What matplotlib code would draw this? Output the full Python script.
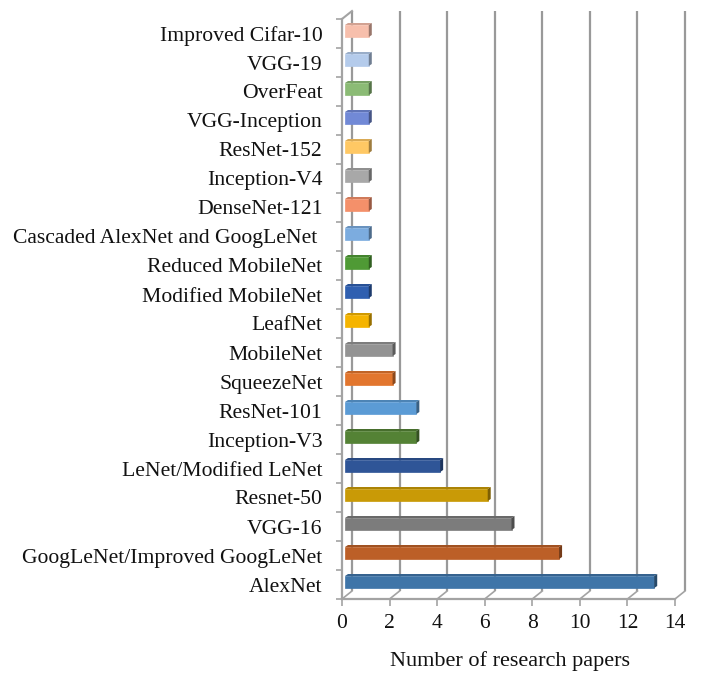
import matplotlib
matplotlib.use('Agg')
import matplotlib.pyplot as plt
from matplotlib.patches import Polygon
from matplotlib.colors import to_rgb

# de baixo para cima, como no grafico
modelos = ['AlexNet', 'GoogLeNet/Improved GoogLeNet', 'VGG-16', 'Resnet-50',
           'LeNet/Modified LeNet', 'Inception-V3', 'ResNet-101', 'SqueezeNet',
           'MobileNet', 'LeafNet', 'Modified MobileNet', 'Reduced MobileNet',
           'Cascaded AlexNet and GoogLeNet ', 'DenseNet-121', 'Inception-V4',
           'ResNet-152', 'VGG-Inception', 'OverFeat', 'VGG-19', 'Improved Cifar-10']
artigos = [13, 9, 7, 6, 4, 3, 3, 2, 2, 1, 1, 1, 1, 1, 1, 1, 1, 1, 1, 1]
cores = ['#3F75A8', '#BC5F27', '#7C7C7C', '#C99A06', '#2F5597', '#548235',
         '#5B9BD5', '#E2762E', '#939393', '#F5B400', '#2F5FB0', '#4F9A35',
         '#7CACDF', '#F4906A', '#A8A8A8', '#FFC864', '#7189D6', '#8BBB75',
         '#B4CBEB', '#F7BFAC']
ticks_x = [0, 2, 4, 6, 8, 10, 12, 14]

W, H = 705, 682
fig = plt.figure(figsize=(W / 100, H / 100), dpi=100)
ax = fig.add_axes([342 / W, 1 - 599 / H, 333 / W, 580 / H])
ax.set_xlim(0, 14)
ax.set_ylim(-0.5, 19.5)
for s in ax.spines.values():
    s.set_visible(False)

# conversao de pixels para unidades de dados
px_x = 14 / 333
px_y = 20 / 580
prof_x = 10 * px_x
prof_y = 8 * px_y
cinza = '#A3A3A3'
cinza2 = '#999999'


def escurece(cor, f):
    return tuple(c * f for c in to_rgb(cor))


# paredes e chao
for v in ticks_x:
    ax.plot([v + prof_x, v + prof_x], [-0.5 + prof_y, 19.5 + prof_y], color=cinza2,
            lw=1.6, clip_on=False, zorder=1, solid_capstyle='butt')
    ax.plot([v, v + prof_x], [-0.5, -0.5 + prof_y], color=cinza, lw=1.2,
            clip_on=False, zorder=1)
ax.plot([0, prof_x], [19.5, 19.5 + prof_y], color=cinza, lw=1.5, clip_on=False, zorder=1)
ax.plot([0, 0], [-0.5, 19.5], color=cinza, lw=1.6, clip_on=False, zorder=1)
ax.plot([0, 14], [-0.5, -0.5], color=cinza, lw=1.6, clip_on=False, zorder=1)

# barras com as faces de cima e lateral
esq = 3 * px_x
alt = 12 * px_y
dx = 3 * px_x
dy = 2 * px_y
for i, (n, cor) in enumerate(zip(artigos, cores)):
    base = i + 2.5 * px_y - alt / 2
    ax.barh(base + alt / 2, n, left=esq, height=alt, color=cor, zorder=3,
            edgecolor=cor, linewidth=0.5)
    dir_ = esq + n
    ax.add_patch(Polygon([(esq, base + alt), (dir_, base + alt), (dir_ + dx, base + alt + dy),
                          (esq + dx, base + alt + dy)], closed=True,
                         facecolor=escurece(cor, 0.85), edgecolor='none', zorder=3, clip_on=False))
    ax.add_patch(Polygon([(dir_, base), (dir_ + dx, base + dy), (dir_ + dx, base + alt + dy),
                          (dir_, base + alt)], closed=True,
                         facecolor=escurece(cor, 0.62), edgecolor='none', zorder=3, clip_on=False))

fonte = 'Liberation Serif'
ax.set_yticks(range(len(modelos)))
ax.set_yticklabels(modelos, family=fonte, fontsize=15.6, color='#111111')
ax.set_yticks([i - 0.5 for i in range(len(modelos) + 1)], minor=True)
ax.tick_params(axis='y', which='major', length=0, pad=14)
ax.tick_params(axis='y', which='minor', length=4, width=1.2, color=cinza)
ax.set_xticks(ticks_x)
ax.set_xticklabels([str(v) for v in ticks_x], family=fonte, fontsize=15.5, color='#111111')
ax.tick_params(axis='x', length=5, width=1.2, color=cinza, pad=6)
ax.set_xlabel('Number of research papers', family=fonte, fontsize=16, color='#111111')
ax.xaxis.set_label_coords(168 / 333, -(62.5 / 580), transform=ax.transAxes)
ax.xaxis.label.set_va('center')

fig.savefig('out.png', dpi=100)
